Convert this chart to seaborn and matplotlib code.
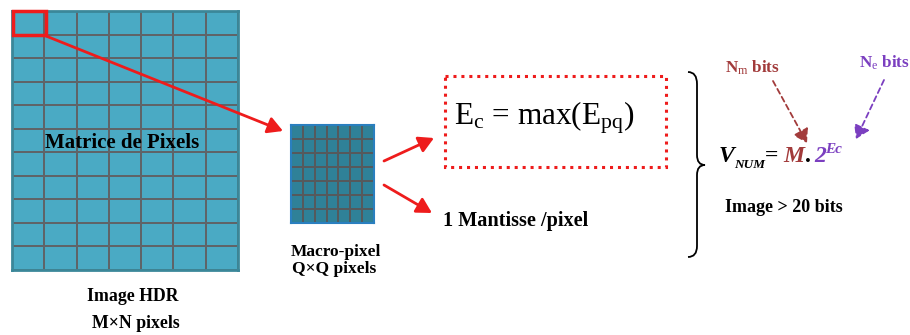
import numpy as np
import matplotlib
matplotlib.use("Agg")
import matplotlib.pyplot as plt
import seaborn as sns
from matplotlib.colors import ListedColormap
from matplotlib.patches import Rectangle, FancyArrowPatch, PathPatch
from matplotlib.path import Path

sns.set_theme(style="white")
plt.rcParams['font.family'] = ['Liberation Serif', 'DejaVu Serif']
plt.rcParams['text.color'] = 'black'
plt.rcParams['mathtext.fontset'] = 'custom'
plt.rcParams['mathtext.rm'] = 'Liberation Serif'
plt.rcParams['mathtext.it'] = 'Liberation Serif:italic'
plt.rcParams['mathtext.bf'] = 'Liberation Serif:bold'

# ---- data ----
image_grid = (11, 7)        # rows, cols of the HDR image
macro_grid = (7, 7)         # rows, cols of the macro-pixel
image_labels = ["Image HDR", "M×N pixels"]
macro_labels = ["Macro-pixel", "Q×Q pixels"]
matrix_label = "Matrice de Pixels"
mantissa_label = "1 Mantisse /pixel"
bits_label = "Image > 20 bits"

W, H = 910, 335
fig = plt.figure(figsize=(W / 100, H / 100), dpi=100)

def px_axes(x0, y0, x1, y1, z=1):
    return fig.add_axes([x0 / W, 1 - y1 / H, (x1 - x0) / W, (y1 - y0) / H], zorder=z)

# big image grid
axg = px_axes(12, 11, 238, 270)
sns.heatmap(np.zeros(image_grid), ax=axg, cmap=ListedColormap(["#4aaac4"]), cbar=False,
            linewidths=1.1, linecolor="#5f6468", xticklabels=False, yticklabels=False)
for s in axg.spines.values():
    s.set_visible(True); s.set_color("#3b8799"); s.set_linewidth(2)

# macro pixel grid
axm = px_axes(291, 125, 374, 223)
sns.heatmap(np.zeros(macro_grid), ax=axm, cmap=ListedColormap(["#2f8198"]), cbar=False,
            linewidths=1.2, linecolor="#55595c", xticklabels=False, yticklabels=False)
for s in axm.spines.values():
    s.set_visible(True); s.set_color("#2a7fbf"); s.set_linewidth(1.5)

# overlay
ax = px_axes(0, 0, W, H, z=5)
ax.set_xlim(0, W); ax.set_ylim(H, 0)
ax.axis("off")
ax.patch.set_alpha(0)

red = "#ee1c1c"
ax.add_patch(Rectangle((13, 11), 33, 24, fill=False, ec=red, lw=2.5))

def arrow(p0, p1, color=red, ls="-", lw=2.0, hw=5, hl=9):
    ax.add_patch(FancyArrowPatch(p0, p1, arrowstyle=f"-|>,head_width={hw/2.5},head_length={hl/2.5}",
                                 mutation_scale=2.5, color=color, lw=lw, linestyle=ls,
                                 shrinkA=0, shrinkB=0))

arrow((46, 36), (283, 131))
arrow((384, 161), (434, 138))
arrow((384, 185), (432, 213))

# dotted box
ax.add_patch(Rectangle((445, 76), 221, 91, fill=False, ec=red, lw=2.2, linestyle=(0, (1, 1.6))))

ax.text(454, 125, r"E$_\mathrm{c}$ = max(E$_\mathrm{pq}$)", fontsize=22.5, va="baseline", ha="left")

ax.text(443, 226, mantissa_label, fontsize=14.6, fontweight="bold", va="baseline", ha="left")

# texts
ax.text(122, 148, matrix_label, fontsize=15, fontweight="bold", va="baseline", ha="center")
ax.text(336, 256, macro_labels[0], fontsize=12.5, fontweight="bold", va="baseline", ha="center")
ax.text(334, 273, macro_labels[1], fontsize=12.5, fontweight="bold", va="baseline", ha="center")
ax.text(133, 301, image_labels[0], fontsize=12.8, fontweight="bold", va="baseline", ha="center")
ax.text(136, 328, image_labels[1], fontsize=12.8, fontweight="bold", va="baseline", ha="center")

# brace
bx = 697
verts = [(688, 72), (bx, 72), (bx, 84), (bx, 155), (bx, 165), (705, 165),
         (bx, 165), (bx, 175), (bx, 246), (bx, 257), (688, 257)]
codes = [Path.MOVETO, Path.CURVE3, Path.CURVE3, Path.LINETO, Path.CURVE3, Path.CURVE3,
         Path.CURVE3, Path.CURVE3, Path.LINETO, Path.CURVE3, Path.CURVE3]
ax.add_patch(PathPatch(Path(verts, codes), fill=False, ec="black", lw=1.3))

brown = "#a23b3b"
purple = "#7b3fc0"
ax.text(725, 73, r"N$_\mathrm{m}$ bits", fontsize=12.3, fontweight="bold", color=brown, va="baseline")
ax.text(859, 68, r"N$_\mathrm{e}$ bits", fontsize=12.3, fontweight="bold", color=purple, va="baseline")
arrow((773, 81), (807, 143), color=brown, ls=(0, (3, 2)), lw=1.3, hw=5, hl=8)
arrow((884, 80), (856, 139), color=purple, ls=(0, (3, 2)), lw=1.3, hw=5, hl=8)

bi = dict(fontweight="bold", fontstyle="italic", va="baseline", ha="left")
ax.text(719, 162, "V", fontsize=17, color="black", **bi)
ax.text(734, 168, "NUM", fontsize=9.5, color="black", **bi)
ax.text(765, 162, "=", fontsize=17, color="black", fontweight="bold", va="baseline")
ax.text(783, 162, "M", fontsize=17, color=brown, **bi)
ax.text(805, 162, ".", fontsize=17, color="black", fontweight="bold", va="baseline")
ax.text(814, 162, "2", fontsize=17, color=purple, **bi)
ax.text(825, 153, "Ec", fontsize=11, color=purple, **bi)

ax.text(725, 212, bits_label, fontsize=13, fontweight="bold", va="baseline", ha="left")

fig.savefig("out.png", dpi=100)
